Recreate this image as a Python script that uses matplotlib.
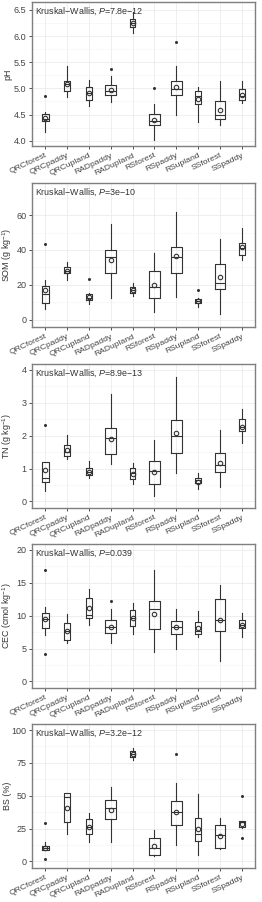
import matplotlib
matplotlib.use("Agg")
import matplotlib.pyplot as plt
from matplotlib.ticker import MultipleLocator
import numpy as np

categories = ["QRCforest", "QRCpaddy", "QRCupland", "RADpaddy", "RADupland",
              "RSforest", "RSpaddy", "RSupland", "SSforest", "SSpaddy"]

# box statistics per variable: whislo, q1, med, q3, whishi, mean, outliers
ph_whislo = [4.17, 4.83, 4.67, 4.74, 6.05, 4.02, 4.50, 4.36, 4.31, 4.72]
ph_q1     = [4.37, 4.95, 4.77, 4.87, 6.17, 4.30, 4.87, 4.70, 4.42, 4.78]
ph_med    = [4.42, 5.08, 4.92, 4.95, 6.25, 4.37, 4.99, 4.85, 4.50, 4.86]
ph_q3     = [4.52, 5.15, 5.03, 5.06, 6.32, 4.51, 5.15, 4.95, 4.75, 4.98]
ph_whishi = [4.55, 5.43, 5.16, 5.23, 6.45, 4.70, 5.43, 5.03, 5.14, 5.14]
ph_mean   = [4.43, 5.08, 4.91, 4.96, 6.25, 4.40, 5.02, 4.79, 4.58, 4.87]
ph_out    = [[4.86], [], [], [5.37], [], [5.01], [5.88], [], [], []]

som_whislo = [6, 23, 9, 12.5, 13.5, 4.5, 13, 7, 3.5, 34]
som_q1     = [9.5, 26.5, 11.5, 26.5, 15.5, 12.5, 27, 9.5, 17.5, 37]
som_med    = [14.5, 28, 12.5, 36, 17, 18.5, 36, 11, 21, 41]
som_q3     = [19.5, 30, 14.5, 40, 19, 28, 41.5, 12, 32, 44]
som_whishi = [23, 33, 15.5, 55, 21, 38.5, 62, 12.5, 46.5, 52.5]
som_mean   = [17, 28, 13, 34, 17, 20, 36.5, 11, 24.5, 41.5]
som_out    = [[43.5], [], [23.5], [], [], [], [], [17], [], []]

tn_whislo = [0.33, 1.28, 0.72, 1.13, 0.52, 0.15, 0.87, 0.38, 0.43, 1.77]
tn_q1     = [0.60, 1.38, 0.80, 1.44, 0.67, 0.53, 1.48, 0.55, 0.88, 2.15]
tn_med    = [0.72, 1.50, 0.90, 1.92, 0.85, 0.93, 2.00, 0.66, 1.12, 2.27]
tn_q3     = [1.20, 1.73, 1.03, 2.22, 1.02, 1.24, 2.48, 0.70, 1.48, 2.50]
tn_whishi = [1.20, 2.02, 1.22, 3.28, 1.18, 1.86, 3.78, 0.87, 2.16, 2.80]
tn_mean   = [0.95, 1.57, 0.91, 1.90, 0.83, 0.91, 2.07, 0.60, 1.18, 2.27]
tn_out    = [[2.33], [], [], [], [], [], [], [], [], []]

cec_whislo = [7.0, 5.8, 8.6, 5.9, 7.2, 4.4, 4.9, 6.8, 3.1, 6.8]
cec_q1     = [8.1, 6.3, 9.7, 7.4, 8.4, 8.0, 7.2, 7.2, 7.6, 8.1]
cec_med    = [9.5, 7.6, 10.1, 8.3, 9.6, 11.0, 8.3, 7.6, 9.4, 8.6]
cec_q3     = [10.4, 8.9, 12.7, 9.3, 10.8, 12.2, 9.2, 9.1, 12.6, 9.3]
cec_whishi = [11.3, 10.3, 14.1, 11.0, 12.0, 17.0, 11.0, 10.7, 14.6, 10.4]
cec_mean   = [9.5, 7.6, 11.1, 8.3, 9.6, 10.3, 8.3, 8.2, 9.4, 8.6]
cec_out    = [[16.9, 4.1], [], [], [12.2], [], [], [], [], [], []]

bs_whislo = [9, 21, 15, 15, 77, 4, 12.5, 5, 9.5, 25.5]
bs_q1     = [9, 30, 21, 32.5, 79.5, 5, 28, 15.5, 10.5, 26.5]
bs_med    = [10.5, 49, 26.5, 41, 81.5, 10.5, 38, 20.5, 20, 30]
bs_q3     = [12, 52, 32, 46.5, 84, 17.5, 46, 33, 28, 30.5]
bs_whishi = [14.5, 52, 37, 56.5, 86, 24, 60, 51, 33, 31]
bs_mean   = [10.5, 41, 26.5, 39, 81.5, 11.5, 38, 24.5, 19.5, 28.5]
bs_out    = [[29, 2], [], [], [], [], [], [81.5], [], [], [50, 17.5]]

ylabels = ["pH", "SOM (g kg$^{-1}$)", "TN (g kg$^{-1}$)", "CEC (cmol kg$^{-1}$)", "BS (%)"]
pvalues = ["7.8e\u221212", "3e\u221210", "8.9e\u221213", "0.039", "3.2e\u221212"]

panels = [
    (ph_whislo, ph_q1, ph_med, ph_q3, ph_whishi, ph_mean, ph_out),
    (som_whislo, som_q1, som_med, som_q3, som_whishi, som_mean, som_out),
    (tn_whislo, tn_q1, tn_med, tn_q3, tn_whishi, tn_mean, tn_out),
    (cec_whislo, cec_q1, cec_med, cec_q3, cec_whishi, cec_mean, cec_out),
    (bs_whislo, bs_q1, bs_med, bs_q3, bs_whishi, bs_mean, bs_out),
]

# styling (not data)
box_widths = [0.31, 0.27, 0.29, 0.49, 0.20, 0.48, 0.53, 0.29, 0.43, 0.27]
ylims = [(3.90, 6.65), (-4.2, 78.4), (-0.2, 4.18), (-1.0, 20.9), (-5, 104.6)]
major = [0.5, 20, 1, 5, 25]
fmts = ["{:.1f}", "{:.0f}", "{:.0f}", "{:.0f}", "{:.0f}"]
tops = [2, 183, 364, 544, 724]
H_AX = 144
AX_L, AX_R = 32, 255

plt.rcParams['font.family'] = ['Liberation Sans', 'DejaVu Sans']
plt.rcParams['mathtext.fontset'] = 'custom'
plt.rcParams['mathtext.rm'] = 'Liberation Sans'
plt.rcParams['mathtext.it'] = 'Liberation Sans:italic'

W, H = 262, 902
fig = plt.figure(figsize=(W / 100, H / 100), dpi=100)

FS = 6.1
line_col = "#333333"
txt_col = "#444444"
for i, (wlo, q1, med, q3, whi, mn, outs) in enumerate(panels):
    top = tops[i]
    ax = fig.add_axes([AX_L / W, 1 - (top + H_AX) / H, (AX_R - AX_L) / W, H_AX / H])
    stats = []
    for j, c in enumerate(categories):
        stats.append(dict(whislo=wlo[j], q1=q1[j], med=med[j], q3=q3[j],
                          whishi=whi[j], mean=mn[j], fliers=outs[j], label=c))
    ax.bxp(stats, positions=np.arange(1, 11), widths=box_widths,
           showmeans=True, showfliers=True, showcaps=False,
           boxprops=dict(color=line_col, linewidth=0.8),
           whiskerprops=dict(color=line_col, linewidth=0.8),
           medianprops=dict(color=line_col, linewidth=0.8),
           meanprops=dict(marker='o', markerfacecolor='none', markeredgecolor=line_col,
                          markersize=3.2, markeredgewidth=0.8),
           flierprops=dict(marker='o', markerfacecolor=line_col, markeredgecolor='none',
                           markersize=2.2))
    ax.set_xlim(0.4, 10.6)
    ax.yaxis.set_major_locator(MultipleLocator(major[i]))
    ax.yaxis.set_minor_locator(MultipleLocator(major[i] / 2))
    ax.set_ylim(*ylims[i])
    ticks = [t for t in ax.get_yticks() if ylims[i][0] <= t <= ylims[i][1]]
    ax.set_yticks(ticks)
    ax.set_yticklabels([fmts[i].format(v) for v in ticks])
    ax.set_ylim(*ylims[i])
    ax.set_xticks(np.arange(1, 11))
    ax.set_xticks(np.arange(0.5, 11, 1), minor=True)
    ax.set_xticklabels(categories, rotation=25, ha='right', rotation_mode='anchor',
                       fontsize=FS, color=txt_col)
    ax.tick_params(axis='y', labelsize=FS + 0.4, labelcolor=txt_col, length=2.5,
                   color="#333333", width=0.6, pad=1.5)
    ax.tick_params(axis='x', length=2.5, color="#333333", width=0.6, pad=1.8)
    ax.tick_params(which='minor', length=0)
    ax.grid(which='major', color="#EBEBEB", linewidth=0.6)
    ax.grid(which='minor', axis='y', color="#F3F3F3", linewidth=0.4)
    ax.set_axisbelow(True)
    for s in ax.spines.values():
        s.set_color("#7F7F7F")
        s.set_linewidth(1.0)
    ax.set_ylabel(ylabels[i], fontsize=FS + 0.3, color="#333333")
    ax.yaxis.label.set_va('center')
    ax.yaxis.set_label_coords((7.5 - AX_L) / (AX_R - AX_L), 0.5)
    ax.text(0.015, 0.935, "Kruskal\u2212Wallis, $\\it{P}$=" + pvalues[i],
            transform=ax.transAxes, fontsize=FS + 0.3, color="#333333", va='center', ha='left')

fig.savefig("out.png", dpi=100)
